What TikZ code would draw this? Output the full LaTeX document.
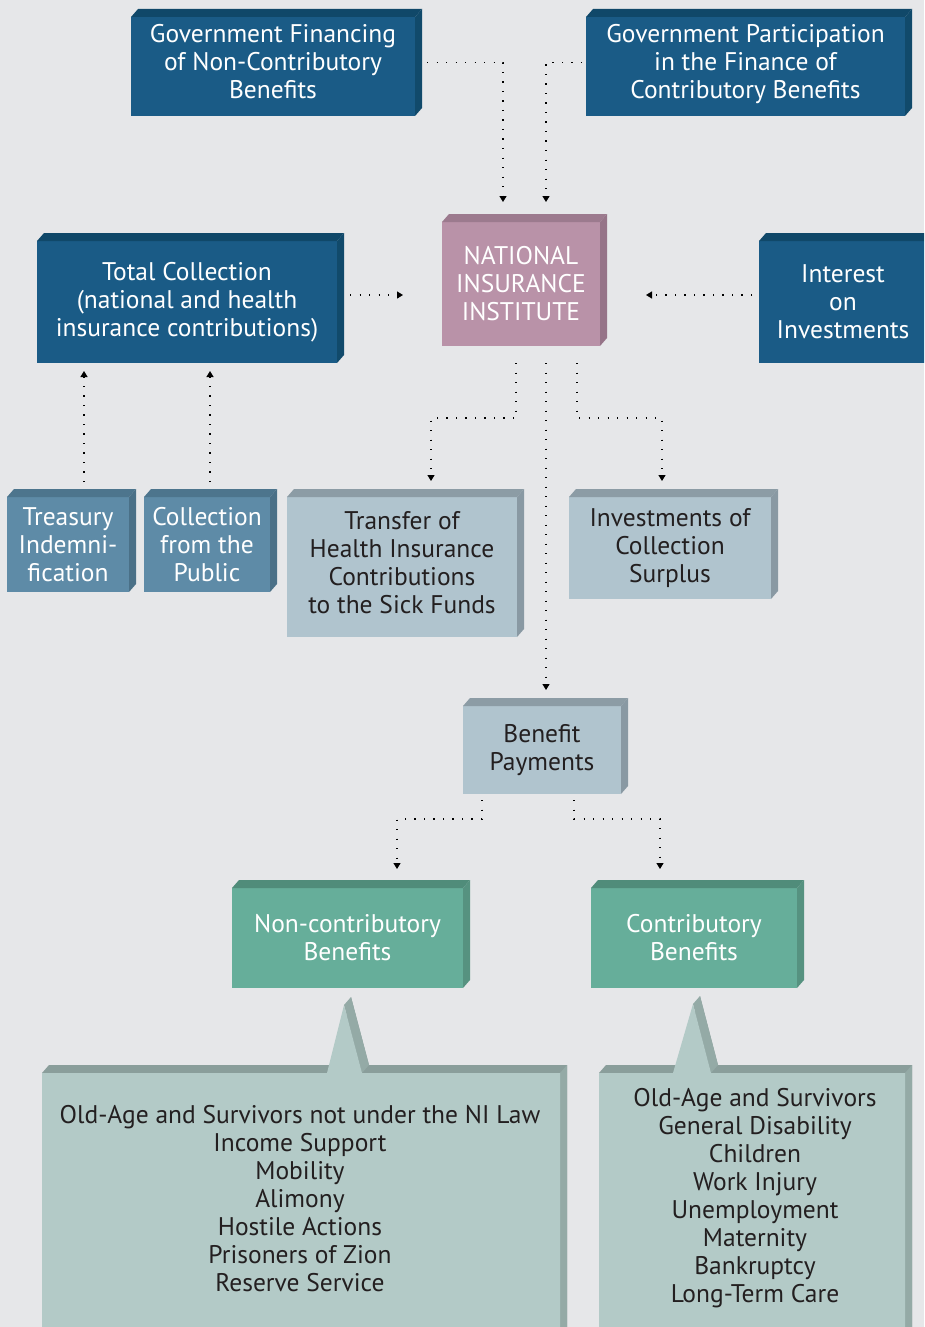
\documentclass[tikz,border=0pt]{standalone}
\usepackage{fontspec}
\setmainfont{PT Sans}
\usetikzlibrary{arrows.meta,calc}
\definecolor{bg}{HTML}{E6E7E9}
\definecolor{dbF}{HTML}{1A5B86}
\definecolor{dbT}{HTML}{104869}
\definecolor{dbS}{HTML}{114A6B}
\definecolor{mbF}{HTML}{5E8BA7}
\definecolor{mbT}{HTML}{4D758D}
\definecolor{mbS}{HTML}{4A7087}
\definecolor{lgF}{HTML}{B0C4CE}
\definecolor{lgT}{HTML}{8C9CA5}
\definecolor{lgS}{HTML}{8999A3}
\definecolor{mvF}{HTML}{B992A8}
\definecolor{mvT}{HTML}{9C7A8E}
\definecolor{mvS}{HTML}{967488}
\definecolor{grF}{HTML}{66AE9A}
\definecolor{grT}{HTML}{508C7A}
\definecolor{grS}{HTML}{569280}
\definecolor{clF}{HTML}{B3CAC7}
\definecolor{clT}{HTML}{8A9E9B}
\definecolor{clS}{HTML}{94AAA6}
\definecolor{txt}{HTML}{231F20}
\newcommand{\bev}[3]{%
  \fill[#2] (#1.north west) -- ++(7,-8) -- ([shift={(7,-8)}]#1.north east) -- (#1.north east) -- cycle;
  \fill[#3] (#1.north east) -- ++(7,-8) -- ([shift={(7,-8)}]#1.south east) -- (#1.south east) -- cycle;
}
\newcommand{\liftup}[1]{\raisebox{1.5pt}[\height][\depth]{\begin{tabular}{@{}c@{}}#1\end{tabular}}}
\tikzset{
  box/.style={rectangle, inner sep=0pt, outer sep=0pt, align=center,
    font=\fontsize{25.5}{28}\selectfont},
  dbox/.style={box, fill=dbF, text=white},
  mbox/.style={box, fill=mbF, text=white},
  lbox/.style={box, fill=lgF, text=txt},
  vbox/.style={box, fill=mvF, text=white},
  gbox/.style={box, fill=grF, text=white},
  ctext/.style={inner sep=0pt, align=center, text=txt, font=\fontsize{25.5}{28}\selectfont},
  conn/.style={line width=1.2pt, dash pattern=on 1.2pt off 8.3pt,
    -{Triangle[width=7pt,length=6pt]}}
}
\begin{document}
\begin{tikzpicture}[x=1pt,y=-1pt]
\useasboundingbox (0,0) rectangle (924,1327);
\fill[bg] (0,0) rectangle (924,1327);
\clip (0,0) rectangle (924,1327);
% nodes
\node[dbox, minimum width=284, minimum height=99] (gf) at (273,66.5) {\liftup{Government Financing\\of Non-Contributory\\Benefits}};
\node[dbox, minimum width=319, minimum height=99] (gp) at (745.5,66.5) {\liftup{Government Participation\\in the Finance of\\Contributory Benefits}};
\node[vbox, minimum width=158, minimum height=124] (nii) at (521,284) {NATIONAL\\INSURANCE\\INSTITUTE};
\node[dbox, minimum width=300, minimum height=122] (tc) at (187,302) {Total Collection\\(national and health\\insurance contributions)};
\node[dbox, minimum width=168, minimum height=122] (ii) at (843,302) {Interest\\on\\Investments};
\node[mbox, minimum width=122, minimum height=95] (tr) at (68,544.5) {Treasury\\Indemni-\\fication};
\node[mbox, minimum width=126, minimum height=95] (cp) at (207,544.5) {Collection\\from the\\Public};
\node[lbox, minimum width=230, minimum height=140] (th) at (402,567) {\liftup{Transfer of\\Health Insurance\\Contributions\\to the Sick Funds}};
\node[lbox, minimum width=202, minimum height=102] (ic) at (670,548) {Investments of\\Collection\\Surplus};
\node[lbox, minimum width=158, minimum height=88] (bp) at (542,750) {Benefit\\Payments};
\node[gbox, minimum width=231, minimum height=100] (nc) at (347.5,938) {Non-contributory\\Benefits};
\node[gbox, minimum width=206, minimum height=100] (cb) at (694,938) {Contributory\\Benefits};
% bevels
\bev{gf}{dbT}{dbS}
\bev{gp}{dbT}{dbS}
\bev{nii}{mvT}{mvS}
\bev{tc}{dbT}{dbS}
\bev{ii}{dbT}{dbS}
\bev{tr}{mbT}{mbS}
\bev{cp}{mbT}{mbS}
\bev{th}{lgT}{lgS}
\bev{ic}{lgT}{lgS}
\bev{bp}{lgT}{lgS}
\bev{nc}{grT}{grS}
\bev{cb}{grT}{grS}
% callout left
\fill[clT] (42,1073) -- (49,1065) -- (334,1065) -- (351,997) -- (369,1065) -- (567,1065) -- (567,1340) -- (42,1340) -- cycle;
\fill[clS] (344,1005) -- (351,997) -- (369,1065) -- (362,1073) -- cycle;
\fill[clS] (560,1073) -- (567,1065) -- (567,1340) -- (560,1340) -- cycle;
\fill[clF] (42,1073) -- (327,1073) -- (344,1005) -- (362,1073) -- (560,1073) -- (560,1340) -- (42,1340) -- cycle;
\node[ctext] (lc) at (300,1199) {Old-Age and Survivors not under the NI Law\\Income Support\\Mobility\\Alimony\\Hostile Actions\\Prisoners of Zion\\Reserve Service};
% callout right
\fill[clT] (599,1073) -- (606,1065) -- (680,1065) -- (700,996) -- (718,1065) -- (912,1065) -- (912,1340) -- (599,1340) -- cycle;
\fill[clS] (693,1004) -- (700,996) -- (718,1065) -- (711,1073) -- cycle;
\fill[clS] (905,1073) -- (912,1065) -- (912,1340) -- (905,1340) -- cycle;
\fill[clF] (599,1073) -- (673,1073) -- (693,1004) -- (711,1073) -- (905,1073) -- (905,1340) -- (599,1340) -- cycle;
\node[ctext] (rc) at (755,1198) {Old-Age and Survivors\\General Disability\\Children\\Work Injury\\Unemployment\\Maternity\\Bankruptcy\\Long-Term Care};
% connectors
\draw[conn] ([shift={(12,-4)}]gf.east) -| ([shift={(-18,-20)}]nii.north);
\draw[conn] ([shift={(-4,-4)}]gp.west) -| ([shift={(25,-20)}]nii.north);
\draw[conn] ([shift={(13,-7)}]tc.east) -- ([shift={(-39,11)}]nii.west);
\draw[conn] ([shift={(-7,-7)}]ii.west) -- ([shift={(46,11)}]nii.east);
\draw[conn] ([shift={(16,-15)}]tr.north) -- ([shift={(-103,8)}]tc.south);
\draw[conn] ([shift={(3,-15)}]cp.north) -- ([shift={(23,8)}]tc.south);
\draw[conn] ([shift={(-5,17)}]nii.south) -- ++(0,55) -| ([shift={(29,-16)}]th.north);
\draw[conn] ([shift={(56,17)}]nii.south) -- ++(0,55) -| ([shift={(-8,-16)}]ic.north);
\draw[conn] ([shift={(25,17)}]nii.south) -- ([shift={(4,-16)}]bp.north);
\draw[conn] ([shift={(-60,6)}]bp.south) -- ++(0,19) -| ([shift={(49.5,-19)}]nc.north);
\draw[conn] ([shift={(32,6)}]bp.south) -- ++(0,19) -| ([shift={(-34,-19)}]cb.north);
\end{tikzpicture}
\end{document}
